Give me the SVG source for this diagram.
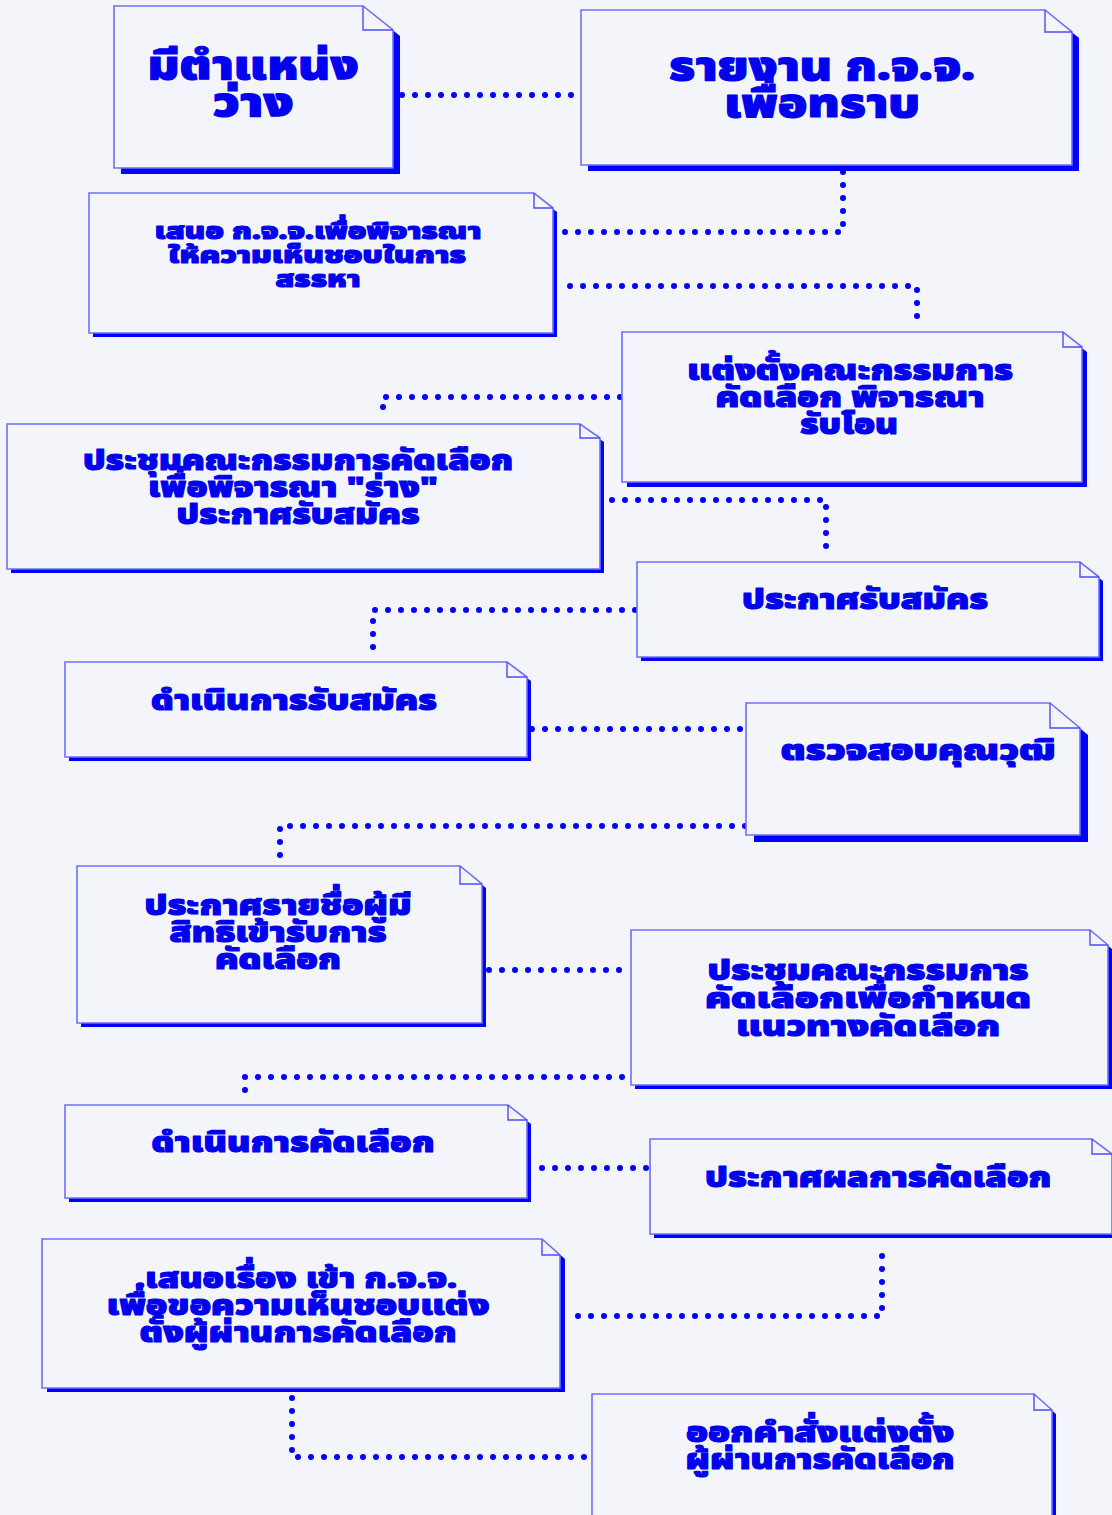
<svg xmlns="http://www.w3.org/2000/svg" width="1112" height="1515" viewBox="0 0 1112 1515">
  <style>
    .bg { fill: #f4f5fb; }
    .shadow { fill: #0000ff; }
    .body { fill: #f4f5fb; stroke: #6f6fff; stroke-width: 1.6; }
    .fold { fill: none; stroke: #4b4bff; stroke-width: 1.4; }
    .lbl { font-family: "Noto Sans Thai", "Noto Sans", "DejaVu Sans", sans-serif; font-weight: 900; fill: #0000f0; stroke: #0000f0; stroke-width: 1.1; stroke-linejoin: round; text-anchor: middle; }
    .big { font-size: 40px; }
    .mid { font-size: 29px; }
    .sm { font-size: 23px; }
    .dots { fill: none; stroke: #0000ff; stroke-width: 6; stroke-linecap: round; stroke-dasharray: 0 13; }
  </style>
  <rect class="bg" x="0" y="0" width="1112" height="1515"/>

  <!-- dotted connectors -->
  <g id="connectors">
    <path class="dots" d="M402,95 H578"/>
    <path class="dots" d="M843,172 V232 H557"/>
    <path class="dots" d="M570,286 H917 V325"/>
    <path class="dots" d="M620,397 H383 V420"/>
    <path class="dots" d="M612,500 H826 V550"/>
    <path class="dots" d="M635,610 H373 V660"/>
    <path class="dots" d="M532,729 H745"/>
    <path class="dots" d="M745,826 H280 V862"/>
    <path class="dots" d="M489,970 H626"/>
    <path class="dots" d="M622,1077 H245 V1096"/>
    <path class="dots" d="M542,1168 H648"/>
    <path class="dots" d="M882,1256 V1316 H570"/>
    <path class="dots" d="M292,1398 V1457 H586"/>
  </g>

  <!-- มีตำแหน่งว่าง -->
  <g id="node-vacancy">
    <path class="shadow" d="M121,12 H370 L400,36 V174 H121 Z"/>
    <path class="body" d="M114,6 H363 L393,30 V168 H114 Z"/>
    <path class="fold" d="M363,6 V30 H393"/>
    <text class="lbl big" x="253" y="79" textLength="211" lengthAdjust="spacingAndGlyphs">มีตำแหน่ง</text>
    <text class="lbl big" x="253" y="116" textLength="81" lengthAdjust="spacingAndGlyphs">ว่าง</text>
  </g>

  <!-- รายงาน ก.จ.จ. เพื่อทราบ -->
  <g id="node-report">
    <path class="shadow" d="M588,16 H1052 L1079,38 V171 H588 Z"/>
    <path class="body" d="M581,10 H1045 L1072,32 V165 H581 Z"/>
    <path class="fold" d="M1045,10 V32 H1072"/>
    <text class="lbl big" x="822" y="80" textLength="306" lengthAdjust="spacingAndGlyphs">รายงาน ก.จ.จ.</text>
    <text class="lbl big" x="822" y="117" textLength="196" lengthAdjust="spacingAndGlyphs">เพื่อทราบ</text>
  </g>

  <!-- เสนอ ก.จ.จ. -->
  <g id="node-propose">
    <path class="shadow" d="M93,197 H538 L557,212 V337 H93 Z"/>
    <path class="body" d="M89,193 H534 L553,208 V333 H89 Z"/>
    <path class="fold" d="M534,193 V208 H553"/>
    <text class="lbl sm" x="318" y="239" textLength="327" lengthAdjust="spacingAndGlyphs">เสนอ ก.จ.จ.เพื่อพิจารณา</text>
    <text class="lbl sm" x="317" y="263" textLength="298" lengthAdjust="spacingAndGlyphs">ให้ความเห็นชอบในการ</text>
    <text class="lbl sm" x="318" y="287" textLength="85" lengthAdjust="spacingAndGlyphs">สรรหา</text>
  </g>

  <!-- แต่งตั้งคณะกรรมการ -->
  <g id="node-appoint-committee">
    <path class="shadow" d="M627,337 H1068 L1087,352 V487 H627 Z"/>
    <path class="body" d="M622,332 H1063 L1082,347 V482 H622 Z"/>
    <path class="fold" d="M1063,332 V347 H1082"/>
    <text class="lbl mid" x="850" y="380" textLength="326" lengthAdjust="spacingAndGlyphs">แต่งตั้งคณะกรรมการ</text>
    <text class="lbl mid" x="850" y="407" textLength="269" lengthAdjust="spacingAndGlyphs">คัดเลือก พิจารณา</text>
    <text class="lbl mid" x="849" y="434" textLength="98" lengthAdjust="spacingAndGlyphs">รับโอน</text>
  </g>

  <!-- ประชุมพิจารณาร่างประกาศ -->
  <g id="node-draft-meeting">
    <path class="shadow" d="M11,428 H584 L604,442 V573 H11 Z"/>
    <path class="body" d="M7,424 H580 L600,438 V569 H7 Z"/>
    <path class="fold" d="M580,424 V438 H600"/>
    <text class="lbl mid" x="298" y="470" textLength="430" lengthAdjust="spacingAndGlyphs">ประชุมคณะกรรมการคัดเลือก</text>
    <text class="lbl mid" x="293" y="497" textLength="290" lengthAdjust="spacingAndGlyphs">เพื่อพิจารณา "ร่าง"</text>
    <text class="lbl mid" x="298" y="524" textLength="243" lengthAdjust="spacingAndGlyphs">ประกาศรับสมัคร</text>
  </g>

  <!-- ประกาศรับสมัคร -->
  <g id="node-announce">
    <path class="shadow" d="M641,566 H1084 L1103,581 V661 H641 Z"/>
    <path class="body" d="M637,562 H1080 L1099,577 V657 H637 Z"/>
    <path class="fold" d="M1080,562 V577 H1099"/>
    <text class="lbl mid" x="865" y="609" textLength="246" lengthAdjust="spacingAndGlyphs">ประกาศรับสมัคร</text>
  </g>

  <!-- ดำเนินการรับสมัคร -->
  <g id="node-receive">
    <path class="shadow" d="M69,666 H511 L531,681 V761 H69 Z"/>
    <path class="body" d="M65,662 H507 L527,677 V757 H65 Z"/>
    <path class="fold" d="M507,662 V677 H527"/>
    <text class="lbl mid" x="294" y="710" textLength="286" lengthAdjust="spacingAndGlyphs">ดำเนินการรับสมัคร</text>
  </g>

  <!-- ตรวจสอบคุณวุฒิ -->
  <g id="node-verify">
    <path class="shadow" d="M754,710 H1058 L1088,735 V842 H754 Z"/>
    <path class="body" d="M746,703 H1050 L1080,728 V835 H746 Z"/>
    <path class="fold" d="M1050,703 V728 H1080"/>
    <text class="lbl mid" x="918" y="760" textLength="275" lengthAdjust="spacingAndGlyphs">ตรวจสอบคุณวุฒิ</text>
  </g>

  <!-- ประกาศรายชื่อผู้มีสิทธิ -->
  <g id="node-eligible">
    <path class="shadow" d="M81,870 H464 L486,888 V1027 H81 Z"/>
    <path class="body" d="M77,866 H460 L482,884 V1023 H77 Z"/>
    <path class="fold" d="M460,866 V884 H482"/>
    <text class="lbl mid" x="278" y="915" textLength="267" lengthAdjust="spacingAndGlyphs">ประกาศรายชื่อผู้มี</text>
    <text class="lbl mid" x="278" y="942" textLength="217" lengthAdjust="spacingAndGlyphs">สิทธิเข้ารับการ</text>
    <text class="lbl mid" x="278" y="969" textLength="126" lengthAdjust="spacingAndGlyphs">คัดเลือก</text>
  </g>

  <!-- ประชุมกำหนดแนวทาง -->
  <g id="node-guideline-meeting">
    <path class="shadow" d="M635,934 H1094 L1112,949 V1089 H635 Z"/>
    <path class="body" d="M631,930 H1090 L1108,945 V1085 H631 Z"/>
    <path class="fold" d="M1090,930 V945 H1108"/>
    <text class="lbl mid" x="868" y="980" textLength="321" lengthAdjust="spacingAndGlyphs">ประชุมคณะกรรมการ</text>
    <text class="lbl mid" x="868" y="1008" textLength="326" lengthAdjust="spacingAndGlyphs">คัดเลือกเพื่อกำหนด</text>
    <text class="lbl mid" x="868" y="1036" textLength="264" lengthAdjust="spacingAndGlyphs">แนวทางคัดเลือก</text>
  </g>

  <!-- ดำเนินการคัดเลือก -->
  <g id="node-select">
    <path class="shadow" d="M69,1109 H512 L531,1124 V1202 H69 Z"/>
    <path class="body" d="M65,1105 H508 L527,1120 V1198 H65 Z"/>
    <path class="fold" d="M508,1105 V1120 H527"/>
    <text class="lbl mid" x="293" y="1152" textLength="283" lengthAdjust="spacingAndGlyphs">ดำเนินการคัดเลือก</text>
  </g>

  <!-- ประกาศผลการคัดเลือก -->
  <g id="node-result">
    <path class="shadow" d="M654,1143 H1096 L1116,1158 V1238 H654 Z"/>
    <path class="body" d="M650,1139 H1092 L1112,1154 V1234 H650 Z"/>
    <path class="fold" d="M1092,1139 V1154 H1112"/>
    <text class="lbl mid" x="878" y="1187" textLength="346" lengthAdjust="spacingAndGlyphs">ประกาศผลการคัดเลือก</text>
  </g>

  <!-- เสนอเรื่องเข้า ก.จ.จ. -->
  <g id="node-approval">
    <path class="shadow" d="M47,1243 H547 L565,1259 V1392 H47 Z"/>
    <path class="body" d="M42,1239 H542 L560,1255 V1388 H42 Z"/>
    <path class="fold" d="M542,1239 V1255 H560"/>
    <text class="lbl mid" x="296" y="1288" textLength="322" lengthAdjust="spacingAndGlyphs">.เสนอเรื่อง เข้า ก.จ.จ.</text>
    <text class="lbl mid" x="298" y="1315" textLength="383" lengthAdjust="spacingAndGlyphs">เพื่อขอความเห็นชอบแต่ง</text>
    <text class="lbl mid" x="298" y="1342" textLength="317" lengthAdjust="spacingAndGlyphs">ตั้งผู้ผ่านการคัดเลือก</text>
  </g>

  <!-- ออกคำสั่งแต่งตั้ง -->
  <g id="node-order">
    <path class="shadow" d="M596,1398 H1038 L1056,1414 V1525 H596 Z"/>
    <path class="body" d="M592,1394 H1034 L1052,1410 V1521 H592 Z"/>
    <path class="fold" d="M1034,1394 V1410 H1052"/>
    <text class="lbl mid" x="820" y="1442" textLength="268" lengthAdjust="spacingAndGlyphs">ออกคำสั่งแต่งตั้ง</text>
    <text class="lbl mid" x="820" y="1469" textLength="269" lengthAdjust="spacingAndGlyphs">ผู้ผ่านการคัดเลือก</text>
  </g>
</svg>
